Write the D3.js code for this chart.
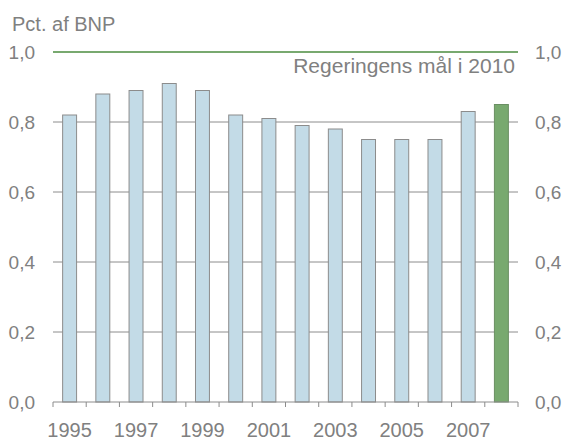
<!DOCTYPE html>
<html>
<head>
<meta charset="utf-8">
<script src="https://cdn.jsdelivr.net/npm/d3@7"></script>
<style>
  body { margin: 0; background: #fff; }
  text { font-family: "Liberation Sans", Arial, sans-serif; fill: #808080; }
</style>
</head>
<body>
<script>
const years = [1995, 1996, 1997, 1998, 1999, 2000, 2001, 2002, 2003, 2004, 2005, 2006, 2007, 2008];
const values = [0.82, 0.88, 0.89, 0.91, 0.89, 0.82, 0.81, 0.79, 0.78, 0.75, 0.75, 0.75, 0.83, 0.85];
const yTicks = [0, 0.2, 0.4, 0.6, 0.8, 1.0];
const labelYears = [1995, 1997, 1999, 2001, 2003, 2005, 2007];
const target = 1.0;
const targetLabel = 'Regeringens mål i 2010';
const unitLabel = 'Pct. af BNP';

const width = 565, height = 440;
const margin = {left: 53, right: 47, top: 52, bottom: 38};

const svg = d3.select('body').append('svg')
    .attr('width', width)
    .attr('height', height);

let x = d3.scaleBand()
    .domain(years)
    .range([margin.left, width - margin.right])
    .paddingInner(0.58)
    .paddingOuter(0.29);

let y = d3.scaleLinear()
    .domain([0, 1])
    .range([height - margin.bottom, margin.top]);

const fmt = d => d3.format('.1f')(d).replace('.', ',');

// gridlines
svg.selectAll('.grid')
    .data(yTicks.filter(d => d > 0 && d < 1))
    .enter()
    .append('line')
    .attr('x1', margin.left)
    .attr('x2', width - margin.right)
    .attr('y1', d => y(d))
    .attr('y2', d => y(d))
    .attr('stroke', '#8c8c8c')
    .attr('stroke-width', 1);

// bars
svg.selectAll('rect')
    .data(years)
    .enter()
    .append('rect')
    .attr('x', d => x(d))
    .attr('width', x.bandwidth())
    .attr('y', (d, i) => y(values[i]))
    .attr('height', (d, i) => y(0) - y(values[i]))
    .attr('fill', d => d === 2008 ? '#78a96f' : '#c3dbe7')
    .attr('stroke', d => d === 2008 ? '#6a8f63' : '#8c8c8c')
    .attr('stroke-width', 1);

// x axis
svg.append('line')
    .attr('x1', margin.left)
    .attr('x2', width - margin.right)
    .attr('y1', y(0))
    .attr('y2', y(0))
    .attr('stroke', '#8c8c8c');

// ticks between the bars
let step = x.step();
svg.selectAll('.tick')
    .data(years.concat([null]))
    .enter()
    .append('line')
    .attr('x1', (d, i) => margin.left + i * step)
    .attr('x2', (d, i) => margin.left + i * step)
    .attr('y1', y(0))
    .attr('y2', y(0) + 5)
    .attr('stroke', '#8c8c8c');

svg.selectAll('.xlab')
    .data(labelYears)
    .enter()
    .append('text')
    .attr('x', d => x(d) + x.bandwidth() / 2)
    .attr('y', height - 3)
    .attr('text-anchor', 'middle')
    .attr('font-size', 20)
    .text(d => d);

// y labels left and right
svg.selectAll('.ylabL')
    .data(yTicks)
    .enter()
    .append('text')
    .attr('x', 35)
    .attr('y', d => y(d) + 7)
    .attr('text-anchor', 'end')
    .attr('font-size', 19)
    .text(fmt);

svg.selectAll('.ylabR')
    .data(yTicks)
    .enter()
    .append('text')
    .attr('x', 535)
    .attr('y', d => y(d) + 7)
    .attr('font-size', 19)
    .text(fmt);

// target line
svg.append('line')
    .attr('x1', margin.left)
    .attr('x2', width - margin.right)
    .attr('y1', y(target))
    .attr('y2', y(target))
    .attr('stroke', '#78a96f')
    .attr('stroke-width', 2);

svg.append('text')
    .attr('x', width - margin.right - 3)
    .attr('y', y(target) + 21)
    .attr('text-anchor', 'end')
    .attr('font-size', 21)
    .text(targetLabel);

svg.append('text')
    .attr('x', 12)
    .attr('y', 31)
    .attr('font-size', 20)
    .text(unitLabel);
</script>
</body>
</html>
